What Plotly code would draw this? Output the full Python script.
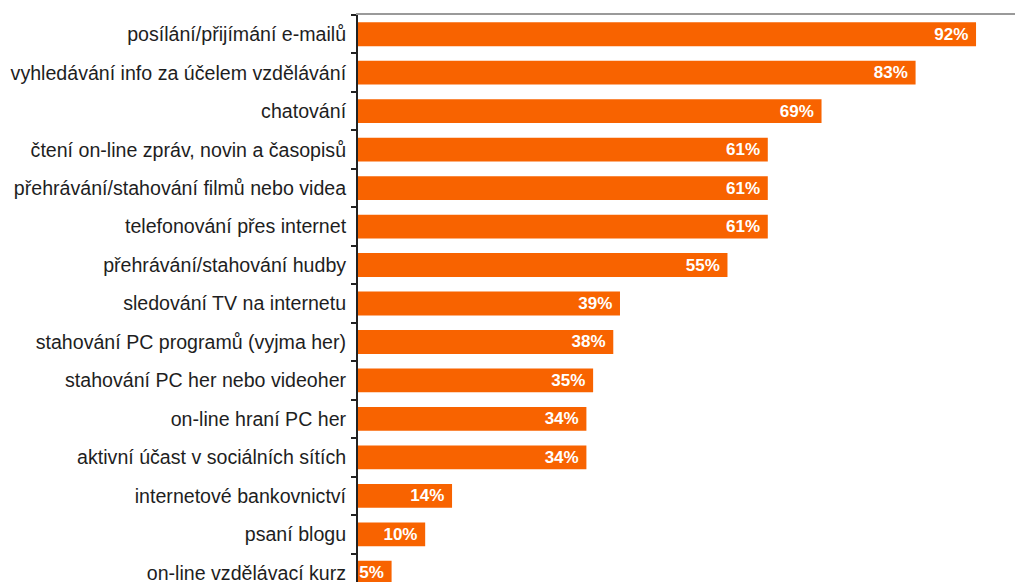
import plotly.graph_objects as go

# Internet activities and share of users doing them (%)
activities = [
    "posílání/přijímání e-mailů",
    "vyhledávání info za účelem vzdělávání",
    "chatování",
    "čtení on-line zpráv, novin a časopisů",
    "přehrávání/stahování filmů nebo videa",
    "telefonování přes internet",
    "přehrávání/stahování hudby",
    "sledování TV na internetu",
    "stahování PC programů (vyjma her)",
    "stahování PC her nebo videoher",
    "on-line hraní PC her",
    "aktivní účast v sociálních sítích",
    "internetové bankovnictví",
    "psaní blogu",
    "on-line vzdělávací kurz",
]
shares = [92, 83, 69, 61, 61, 61, 55, 39, 38, 35, 34, 34, 14, 10, 5]

ORANGE = "#F86300"

fig = go.Figure(
    go.Bar(
        x=shares,
        y=activities,
        orientation="h",
        marker=dict(color=ORANGE, line=dict(width=0)),
        width=0.62,
        # value label sits at the inner end of each bar, with a little extra padding
        texttemplate="%{x}%\u00a0",
        textposition="inside",
        insidetextanchor="end",
        textangle=0,
        constraintext="none",
        textfont=dict(family="Liberation Sans", size=17, color="white", weight="bold"),
        hoverinfo="skip",
    )
)

fig.update_layout(
    width=1020,
    height=584,
    margin=dict(l=358, r=5, t=15, b=0),
    paper_bgcolor="white",
    plot_bgcolor="white",
    showlegend=False,
    font=dict(family="Liberation Sans", size=19.6, color="#1e1e1e"),
    xaxis=dict(
        range=[0, 97.8],
        side="top",
        showline=True,
        linecolor="#9a9a9a",
        linewidth=2,
        showticklabels=False,
        ticks="",
        showgrid=False,
        zeroline=False,
        fixedrange=True,
    ),
    yaxis=dict(
        type="category",
        range=[14.24, -0.5],
        showline=True,
        linecolor="#222222",
        linewidth=2,
        ticks="outside",
        tickson="boundaries",
        ticklen=5,
        tickwidth=2,
        tickcolor="#222222",
        ticklabelstandoff=6,
        showgrid=False,
        zeroline=False,
        fixedrange=True,
    ),
)

fig.write_html("out.html", config={"displayModeBar": False})
